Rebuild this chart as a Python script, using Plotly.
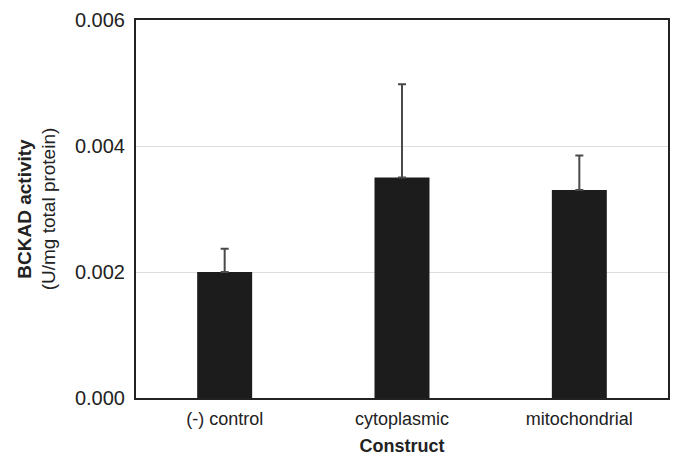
import plotly.graph_objects as go

categories = ["(-) control", "cytoplasmic", "mitochondrial"]
activity = [0.0020, 0.0035, 0.0033]
error_plus = [0.00037, 0.00148, 0.00055]
y_ticks = [0.000, 0.002, 0.004, 0.006]
y_tick_labels = ["0.000", "0.002", "0.004", "0.006"]

fig = go.Figure(go.Bar(
    x=categories, y=activity,
    marker=dict(color="#1c1c1c", line=dict(color="#1c1c1c", width=0)),
    error_y=dict(type="data", array=error_plus, symmetric=False, arrayminus=[0, 0, 0],
                 color="#4a4a4a", thickness=2, width=4),
))

font = "Liberation Sans, Arial, sans-serif"
fig.update_layout(
    width=675, height=460,
    margin=dict(l=136, r=5, t=20, b=62),
    plot_bgcolor="white", paper_bgcolor="white",
    bargap=0.69, showlegend=False,
    font=dict(family=font, size=18, color="#222"),
    xaxis=dict(
        showline=True, linecolor="#222", linewidth=2, mirror=True,
        ticks="", tickfont=dict(size=18, color="#222"), ticklabelstandoff=3,
        title=dict(text="<b>Construct</b>", font=dict(size=18, color="#222"), standoff=12),
    ),
    yaxis=dict(
        range=[0, 0.006], tickvals=y_ticks, ticktext=y_tick_labels,
        showline=True, linecolor="#222", linewidth=2, mirror=True,
        showgrid=True, gridcolor="#dddddd", gridwidth=1,
        ticks="", tickfont=dict(size=20, color="#222"), zeroline=False,
        ticklabelstandoff=5,
        title=dict(text="<b>BCKAD activity</b><br>(U/mg total protein)",
                   font=dict(size=19, color="#222"), standoff=14),
    ),
)

fig.write_html("out.html", config={"displayModeBar": False},
               post_script="document.body.style.margin='0';document.body.style.padding='0';")
